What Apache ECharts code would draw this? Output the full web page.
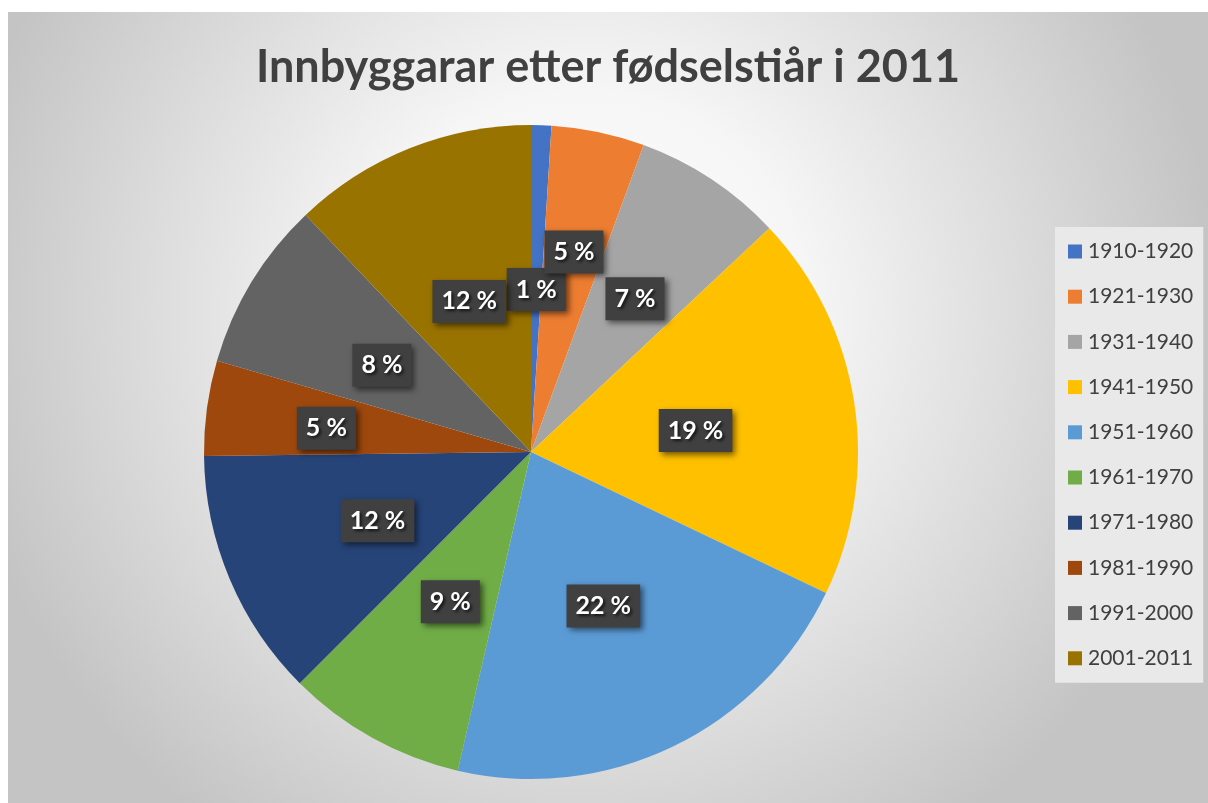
<!DOCTYPE html>
<html>
<head>
<meta charset="utf-8">
<script src="https://cdn.jsdelivr.net/npm/echarts@6/dist/echarts.min.js"></script>
<style>
html,body{margin:0;padding:0;background:#ffffff;width:1208px;height:803px;overflow:hidden;}
#chart{position:absolute;left:8px;top:12px;width:1200px;height:791px;}
</style>
</head>
<body>
<div id="chart"></div>
<script>
// Data
var categories = ['1910-1920','1921-1930','1931-1940','1941-1950','1951-1960','1961-1970','1971-1980','1981-1990','1991-2000','2001-2011'];
var shares = [1.0, 4.6, 7.4, 19.1, 21.5, 8.9, 12.3, 4.7, 8.4, 12.1];
var titleText = 'Innbyggarar etter fødselstiår i 2011';

// Styles
var colors = ['#4472C4','#ED7D31','#A5A5A5','#FFC000','#5B9BD5','#70AD47','#264478','#9E480E','#636363','#997300'];
var pieCenter = [523, 440];
var pieRadius = 327;
var labelRadialShift = [0, 42, 22, 0, 0, 0, 0, 40, 8, 0];

var chart = echarts.init(document.getElementById('chart'), null, {renderer:'canvas'});
var option = {
  animation: false,
  backgroundColor: {
    type: 'radial', x: 0.48, y: 0.38, r: 0.8,
    colorStops: [{offset:0, color:'#ffffff'},{offset:0.35, color:'#f6f6f6'},{offset:1, color:'#c4c4c4'}]
  },
  color: colors,
  title: {
    text: titleText,
    left: 'center',
    top: 28,
    textStyle: {fontFamily:'Lato', fontWeight:'bold', fontSize:45, color:'#404040'}
  },
  legend: {
    orient: 'vertical',
    left: 1047,
    top: 215,
    padding: [14, 10, 14, 13],
    backgroundColor: '#e9e9e9',
    itemWidth: 14,
    itemHeight: 14,
    itemGap: 24.2,
    icon: 'rect',
    textStyle: {fontFamily:'Lato', fontSize:21, lineHeight:21, color:'#404040', padding:[0,0,0,1]},
    data: categories
  },
  series: [{
    type: 'pie',
    center: pieCenter,
    radius: pieRadius,
    startAngle: 90,
    clockwise: true,
    avoidLabelOverlap: false,
    emphasis: {disabled: true},
    itemStyle: {borderWidth: 0},
    label: {
      show: true,
      position: 'inside',
      formatter: function(p){ return Math.round(p.percent) + ' %'; },
      fontFamily: 'Lato',
      fontWeight: 'bold',
      fontSize: 25,
      lineHeight: 24,
      color: '#ffffff',
      backgroundColor: '#404040',
      padding: [10, 9, 9, 9],
      shadowColor: 'rgba(0,0,0,0.55)',
      shadowBlur: 6,
      shadowOffsetX: 3,
      shadowOffsetY: 3,
      textShadowColor: 'rgba(0,0,0,0.7)',
      textShadowBlur: 3,
      textShadowOffsetX: 2,
      textShadowOffsetY: 2
    },
    labelLine: {show: false},
    labelLayout: function(p){
      var s = labelRadialShift[p.dataIndex] || 0;
      var cx = p.labelRect.x + p.labelRect.width/2;
      var cy = p.labelRect.y + p.labelRect.height/2;
      var vx = cx - pieCenter[0], vy = cy - pieCenter[1];
      var len = Math.sqrt(vx*vx + vy*vy) || 1;
      return {dx: vx/len*s, dy: vy/len*s + 4};
    },
    data: categories.map(function(c, i){ return {name: c, value: shares[i]}; })
  }]
};
chart.setOption(option);
</script>
</body>
</html>
